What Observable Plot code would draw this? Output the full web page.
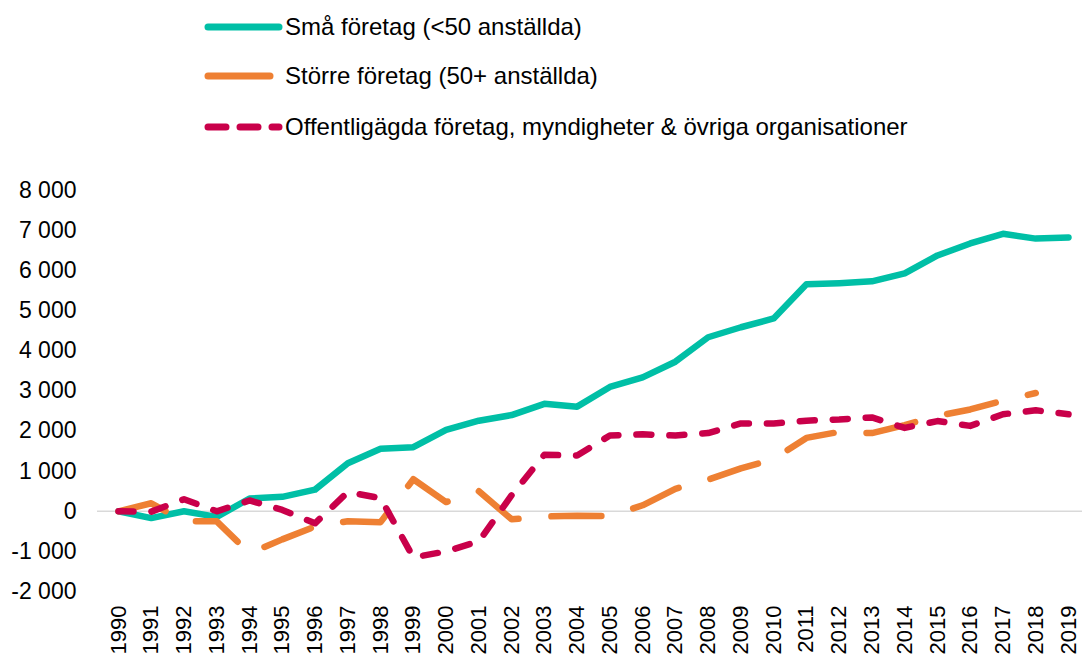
<!DOCTYPE html>
<html>
<head>
<meta charset="utf-8">
<script src="https://cdn.jsdelivr.net/npm/d3@7"></script>
<script src="https://cdn.jsdelivr.net/npm/@observablehq/plot@0.6"></script>
<style>
  body { margin: 0; background: #fff; font-family: "Liberation Sans", Arial, sans-serif; }
  #legend { position: relative; width: 1082px; height: 150px; }
  .row { position: absolute; left: 204px; height: 30px; display: flex; align-items: center; font-size: 24px; color: #000; white-space: nowrap; }
  .row svg { margin-right: 1px; }
</style>
</head>
<body>
<div id="legend"></div>
<div id="chart"></div>
<script>
const years = [1990,1991,1992,1993,1994,1995,1996,1997,1998,1999,2000,2001,2002,2003,2004,2005,2006,2007,2008,2009,2010,2011,2012,2013,2014,2015,2016,2017,2018,2019];
const smallFirms = [0,-170,0,-140,320,360,540,1200,1560,1600,2030,2260,2400,2680,2610,3100,3340,3730,4340,4590,4810,5660,5690,5735,5935,6380,6680,6920,6800,6830];
const largeFirms = [0,200,-250,-250,-1050,-700,-380,-250,-270,800,230,500,-200,-130,-110,-120,150,560,790,1070,1300,1830,1980,1950,2150,2380,2540,2760,2950,null];
const publicOrgs = [0,-10,300,0,270,35,-300,480,330,-1150,-1000,-750,400,1410,1390,1890,1920,1890,1950,2190,2190,2260,2290,2340,2080,2250,2130,2420,2520,2420];
const yTicks = [-2000,-1000,0,1000,2000,3000,4000,5000,6000,7000,8000];
const seriesNames = ["Små företag (<50 anställda)", "Större företag (50+ anställda)", "Offentligägda företag, myndigheter & övriga organisationer"];

const colors = ["#00BFA6", "#EE8033", "#C9004A"];
const dashes = [null, "50,33", "15,18"];
const widths = [6.5, 6.5, 6.5];

const seriesValues = [smallFirms, largeFirms, publicOrgs];
const tables = seriesValues.map((vals, i) => years.map((yr, j) => ({year: yr, value: vals[j], series: seriesNames[i]})));

const fmt = d3.formatLocale({decimal: ",", thousands: " ", grouping: [3], currency: ["", ""], minus: "-"}).format(",");

// Legend
const legend = document.getElementById("legend");
const rowCenters = [27, 76, 127];
const legendDash = [null, null, "18,14"];
const legendLen = [75, 66, 75];
seriesNames.forEach((name, i) => {
  const row = document.createElement("div");
  row.className = "row";
  row.style.top = (rowCenters[i] - 15) + "px";
  const svg = d3.create("svg").attr("width", 80).attr("height", 30);
  svg.append("line").attr("x1", 4).attr("x2", legendLen[i]).attr("y1", 15).attr("y2", 15)
    .attr("stroke", colors[i]).attr("stroke-width", 7).attr("stroke-linecap", "round")
    .attr("stroke-dasharray", legendDash[i]);
  row.appendChild(svg.node());
  const span = document.createElement("span");
  span.textContent = name;
  row.appendChild(span);
  legend.appendChild(row);
});

const chart = Plot.plot({
  width: 1082,
  height: 508,
  marginLeft: 97,
  marginRight: 0,
  marginTop: 40,
  marginBottom: 67,
  insetLeft: 21,
  insetRight: 14,
  style: {fontFamily: "'Liberation Sans', Arial, sans-serif", color: "#000", background: "#fff"},
  x: {type: "linear", domain: [1990, 2019], label: null},
  y: {domain: [-2000, 8000], label: null},
  marks: [
    Plot.axisX({ticks: years, tickFormat: d => String(d), tickRotate: -90, tickSize: 0, tickPadding: 14, fontSize: 22, label: null}),
    Plot.axisY({ticks: yTicks, tickFormat: fmt, tickSize: 0, tickPadding: 21, fontSize: 23, label: null}),
    Plot.ruleY([0], {stroke: "#d9d9d9", strokeWidth: 1.5}),
    ...tables.map((t, i) => Plot.line(t, {
      x: "year", y: "value",
      stroke: colors[i], strokeWidth: widths[i],
      strokeDasharray: dashes[i] || undefined,
      strokeLinecap: "round", strokeLinejoin: "round"
    }))
  ]
});
document.getElementById("chart").appendChild(chart);
</script>
</body>
</html>
